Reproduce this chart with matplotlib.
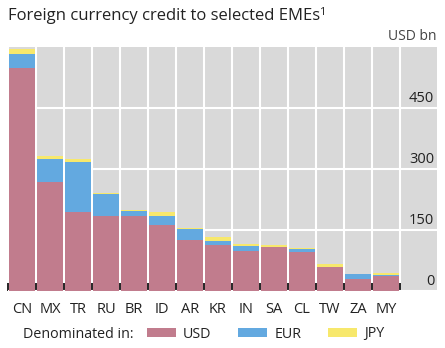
import matplotlib
matplotlib.use("Agg")
import matplotlib.pyplot as plt
import matplotlib.transforms as mtrans
from matplotlib.patches import Patch
import numpy as np

plt.rcParams['font.family'] = ['Open Sans', 'DejaVu Sans']

countries = ["CN", "MX", "TR", "RU", "BR", "ID", "AR", "KR", "IN", "SA", "CL", "TW", "ZA", "MY"]
usd = [548, 267, 194, 185, 184, 162, 125, 112, 98, 108, 97, 58, 29, 38]
eur = [34, 57, 124, 54, 13, 23, 27, 12, 13, 1, 6, 2, 12, 1]
jpy = [12, 8, 6, 3, 2, 10, 2, 8, 4, 3, 2, 7, 1, 5]
yticks = [0, 150, 300, 450]
series_names = ["USD", "EUR", "JPY"]

c_usd = "#C17C8D"
c_eur = "#63A9E0"
c_jpy = "#F7E86C"
bg = "#D9D9D9"
txt = "#222222"

W, H = 445, 348
fig = plt.figure(figsize=(W / 100, H / 100), dpi=100)
ax = fig.add_axes([8 / W, 1 - 291 / H, (437 - 8) / W, (291 - 47) / H])
ax.set_facecolor(bg)

x = np.arange(len(countries))
usd_a = np.array(usd, float)
eur_a = np.array(eur, float)
jpy_a = np.array(jpy, float)
bw = 0.93
ax.bar(x, usd_a, width=bw, color=c_usd, zorder=2)
ax.bar(x, eur_a, width=bw, bottom=usd_a, color=c_eur, zorder=2)
ax.bar(x, jpy_a, width=bw, bottom=usd_a + eur_a, color=c_jpy, zorder=2)

ax.set_xlim(-0.5, 14.82)
ax.set_ylim(0, 600)

for s in ax.spines.values():
    s.set_visible(False)

# x axis
ax.set_xticks(x)
ax.set_xticklabels(countries, fontsize=10.5, color=txt)
ax.set_xticks(np.arange(-0.5, len(countries), 1.0), minor=True)
ax.tick_params(axis='x', which='major', length=0, pad=8)
ax.tick_params(axis='x', which='minor', direction='in', length=6, width=1.2,
               color='black')
for t in ax.xaxis.get_minor_ticks():
    t.tick1line.set_zorder(5)
ax.xaxis.grid(True, which='minor', color='white', linewidth=1.5, zorder=1)
ax.xaxis.grid(False, which='major')

# y axis
ax.yaxis.tick_right()
ax.set_yticks(yticks)
ax.set_yticklabels([str(v) for v in yticks], fontsize=10.5, color=txt)
ax.tick_params(axis='y', length=0, pad=-2)
off = mtrans.ScaledTranslation(0, 2 / 100, fig.dpi_scale_trans)
for lab in ax.get_yticklabels():
    lab.set_horizontalalignment('right')
    lab.set_verticalalignment('bottom')
    lab.set_transform(lab.get_transform() + off)
ax.yaxis.grid(True, color='white', linewidth=1.5, zorder=1)
ax.set_axisbelow(True)

title = fig.text(8 / W, 1 - 16 / H, "Foreign currency credit to selected EMEs",
                 fontsize=12, color=txt, ha='left', va='center')
fig.canvas.draw()
bb = title.get_window_extent()
fig.text((bb.x1 - 1) / fig.bbox.width, (bb.y1 + 1) / fig.bbox.height, "1",
         fontsize=8, color=txt, ha='left', va='top')
fig.text(437 / W, 1 - 37 / H, "USD bn", fontsize=10, color="#444444",
         ha='right', va='center')

fig.text(23 / W, 1 - 335 / H, "Denominated in:", fontsize=10.3, color=txt,
         ha='left', va='center')
handles = [Patch(facecolor=c, edgecolor='none') for c in (c_usd, c_eur, c_jpy)]
fig.legend(handles, series_names, loc='center left',
           bbox_to_anchor=(147 / W, 1 - 334 / H), ncol=3, frameon=False,
           fontsize=10.3, handlelength=2.0, handleheight=0.6,
           handletextpad=0.5, columnspacing=1.9, borderpad=0, borderaxespad=0,
           labelcolor=txt)

fig.savefig("out.png", dpi=100)
